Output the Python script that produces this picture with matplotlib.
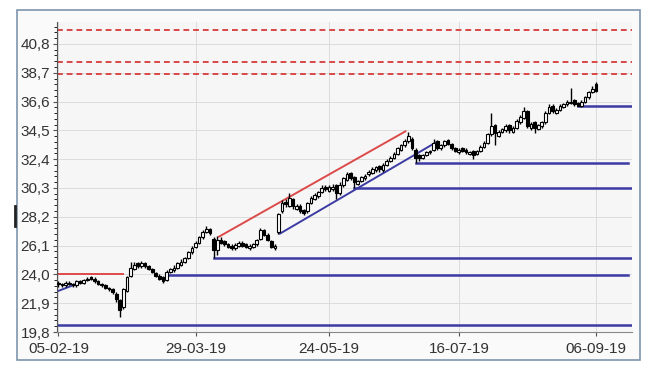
import matplotlib
matplotlib.use('Agg')
import matplotlib.pyplot as plt
from matplotlib.ticker import FixedLocator, AutoMinorLocator, FuncFormatter
from matplotlib.patches import Rectangle
import numpy as np

plt.rcParams.update({
    'font.family': 'Liberation Sans',
    'font.size': 11,
})

# daily OHLC (trading-day index 0..149)
opens = [23.4, 23.3, 23.2, 23.4, 23.3, 23.2, 23.5, 23.4, 23.6, 23.8,
         23.7, 23.5, 23.3, 23.2, 23.0, 22.9, 22.6, 22.1, 21.6, 22.8,
         23.9, 24.4, 24.8, 24.6, 24.8, 24.6, 24.4, 24.1, 23.9, 23.8,
         23.6, 24.2, 24.3, 24.5, 24.7, 24.9, 25.2, 25.6, 26.0, 26.3,
         26.7, 27.1, 27.3, 26.6, 25.8, 26.5, 26.4, 26.2, 26.1, 25.9,
         26.1, 26.3, 26.2, 25.9, 26.0, 26.2, 26.6, 27.2, 26.9, 26.4,
         25.9, 27.1, 28.6, 29.3, 29.0, 29.5, 28.8, 29.0, 28.7, 28.6,
         29.2, 29.5, 29.7, 30.0, 30.4, 30.1, 30.2, 30.5, 29.9, 30.5,
         30.9, 31.4, 31.1, 30.6, 30.8, 31.0, 31.3, 31.4, 31.6, 31.9,
         31.6, 32.0, 32.3, 32.5, 32.8, 33.1, 33.4, 33.7, 33.9, 33.1,
         32.7, 32.5, 32.7, 32.9, 33.1, 33.7, 33.2, 33.4, 33.8, 33.5,
         33.2, 32.9, 33.2, 33.1, 32.8, 33.0, 32.8, 33.0, 33.3, 33.6,
         34.2, 34.9, 34.1, 34.4, 34.5, 34.9, 34.4, 34.7, 35.1, 35.4,
         35.9, 34.7, 35.1, 34.6, 34.8, 35.1, 35.8, 36.3, 35.8, 36.0,
         36.2, 36.4, 36.5, 36.7, 36.5, 36.3, 36.6, 36.9, 37.3, 37.9]
highs = [23.5, 23.4, 23.5, 23.5, 23.4, 23.6, 23.6, 23.7, 23.8, 23.9,
         23.8, 23.6, 23.4, 23.3, 23.1, 23.0, 22.7, 22.2, 23.0, 23.9,
         24.9, 24.9, 24.9, 25.0, 24.9, 24.7, 24.5, 24.2, 24.0, 23.9,
         24.3, 24.5, 24.7, 24.9, 25.1, 25.3, 25.7, 26.1, 26.4, 26.8,
         27.2, 27.5, 27.4, 26.7, 26.8, 26.7, 26.5, 26.3, 26.2, 26.3,
         26.4, 26.4, 26.3, 26.2, 26.3, 26.6, 27.4, 27.3, 27.0, 26.5,
         26.2, 28.5, 29.4, 29.5, 29.9, 29.6, 29.1, 29.1, 28.8, 29.3,
         29.7, 29.9, 30.1, 30.5, 30.5, 30.5, 30.6, 30.6, 30.7, 31.1,
         31.5, 31.5, 31.2, 30.9, 31.2, 31.3, 31.6, 31.8, 31.9, 32.0,
         32.1, 32.4, 32.6, 32.9, 33.3, 33.5, 33.9, 34.4, 34.0, 33.2,
         32.8, 32.8, 33.0, 33.1, 33.9, 33.8, 33.5, 33.8, 33.9, 33.6,
         33.3, 33.2, 33.3, 33.2, 33.0, 33.1, 33.1, 33.4, 33.7, 34.3,
         35.8, 35.0, 34.5, 34.7, 35.0, 35.0, 34.8, 35.3, 35.6, 36.2,
         36.0, 35.1, 35.2, 35.0, 35.2, 35.9, 36.4, 36.4, 36.1, 36.4,
         36.5, 36.7, 37.6, 36.8, 36.6, 36.7, 37.0, 37.4, 37.7, 38.0]
lows = [23.1, 23.1, 23.1, 23.2, 23.1, 23.1, 23.3, 23.3, 23.5, 23.6,
        23.4, 23.2, 23.1, 22.9, 22.8, 22.6, 22.0, 20.9, 21.5, 22.7,
        23.8, 24.3, 24.5, 24.5, 24.5, 24.3, 24.1, 23.8, 23.6, 23.4,
        23.5, 24.1, 24.2, 24.4, 24.6, 24.8, 25.1, 25.5, 25.9, 26.2,
        26.6, 27.0, 26.9, 25.2, 25.4, 26.2, 26.1, 25.9, 25.8, 25.8,
        26.0, 26.0, 25.9, 25.8, 25.9, 26.1, 26.5, 26.8, 26.4, 25.9,
        25.8, 26.95, 28.5, 28.9, 28.9, 28.8, 28.7, 28.5, 28.3, 28.5,
        29.1, 29.4, 29.6, 29.9, 30.1, 30.0, 30.1, 29.5, 29.8, 30.4,
        30.8, 30.9, 30.3, 30.5, 30.7, 30.9, 31.2, 31.3, 31.5, 31.5,
        31.5, 31.9, 32.2, 32.4, 32.7, 33.0, 33.3, 33.6, 33.1, 32.1,
        32.3, 32.4, 32.6, 32.8, 33.0, 33.1, 33.1, 33.3, 33.4, 33.1,
        32.9, 32.8, 32.9, 32.8, 32.7, 32.4, 32.7, 32.9, 33.2, 33.5,
        34.1, 33.4, 34.0, 34.3, 34.4, 34.3, 34.3, 34.6, 35.0, 35.3,
        34.7, 34.5, 34.3, 34.5, 34.7, 35.0, 35.7, 35.8, 35.7, 35.9,
        36.1, 36.3, 36.4, 36.3, 36.25, 36.2, 36.5, 36.8, 37.2, 37.3]
closes = [23.3, 23.2, 23.4, 23.3, 23.2, 23.5, 23.4, 23.6, 23.7, 23.7,
          23.5, 23.3, 23.2, 23.0, 22.9, 22.7, 22.2, 21.4, 22.9, 23.8,
          24.5, 24.7, 24.6, 24.85, 24.6, 24.4, 24.2, 23.9, 23.7, 23.5,
          24.2, 24.4, 24.5, 24.8, 24.9, 25.2, 25.6, 25.95, 26.3, 26.7,
          27.1, 27.3, 27.0, 25.8, 26.5, 26.3, 26.2, 26.0, 25.95, 26.15,
          26.3, 26.1, 26.0, 26.1, 26.2, 26.5, 27.2, 26.9, 26.5, 26.0,
          26.1, 28.4, 29.2, 29.1, 29.6, 28.95, 28.95, 28.6, 28.5, 29.2,
          29.6, 29.8, 30.0, 30.3, 30.2, 30.4, 30.4, 29.9, 30.55, 31.0,
          31.3, 31.0, 30.7, 30.8, 31.1, 31.2, 31.5, 31.65, 31.8, 31.65,
          32.0, 32.3, 32.5, 32.75, 33.2, 33.4, 33.7, 34.1, 33.2, 32.5,
          32.5, 32.7, 32.9, 33.0, 33.6, 33.2, 33.4, 33.7, 33.5, 33.2,
          33.0, 33.05, 33.0, 32.9, 32.9, 32.7, 33.0, 33.3, 33.6, 34.2,
          34.8, 34.3, 34.35, 34.6, 34.8, 34.5, 34.7, 35.15, 35.5, 35.9,
          34.8, 35.0, 34.7, 34.9, 35.1, 35.8, 36.2, 35.9, 36.0, 36.25,
          36.4, 36.55, 36.6, 36.4, 36.3, 36.6, 36.9, 37.3, 37.5, 37.4]

date_ticks = [0, 38, 75, 111, 149]
date_labels = ['05-02-19', '29-03-19', '24-05-19', '16-07-19', '06-09-19']

# resistance (red dashed), support levels (blue): level, start, end
resistance = [41.85, 39.5, 38.6]
supports = [(20.3, 0, 159), (23.95, 30, 158), (25.2, 43, 159),
            (30.3, 82, 159), (32.1, 99, 158), (36.3, 144, 159)]
red_segments = [((0, 24.0), (18, 24.0)), ((44.5, 26.75), (96.2, 34.43))]
blue_segments = [((0, 22.8), (5, 23.3)), ((61.4, 26.97), (104.5, 33.6))]

fig = plt.figure(figsize=(6.6, 3.79), dpi=100)
fig.patches.append(Rectangle((17/660, 1-360/379), 623/660, 350/379, transform=fig.transFigure,
                             facecolor='#fafafa', edgecolor='#7f95ab', linewidth=1.2, zorder=-5))
fig.add_artist(plt.Line2D([15/660, 15/660], [1-226/379, 1-206/379], color='#222222', lw=2))
ax = fig.add_axes([57/660, 1-332/379, 575/660, 310/379])
ax.set_facecolor('#f6f6f6')

x = np.arange(len(closes))
o = np.array(opens); c = np.array(closes)
up = c >= o
ax.vlines(x, lows, highs, color='black', lw=1.0, zorder=3)
body_h = np.maximum(np.abs(c - o), 0.08)
ax.bar(x, body_h, width=0.75, bottom=np.minimum(o, c),
       color=np.where(up, 'white', 'black'), edgecolor='black', linewidth=0.8, zorder=4)

for lvl in resistance:
    ax.axhline(lvl, color='#d94848', lw=1.4, ls=(0, (3, 2)), zorder=2)
for lvl, x0, x1 in supports:
    ax.plot([x0, x1], [lvl, lvl], color='#3b3ba3', lw=1.8, zorder=2)
for (x0, y0), (x1, y1) in red_segments:
    ax.plot([x0, x1], [y0, y1], color='#dd4a4a', lw=1.4, zorder=2)
for (x0, y0), (x1, y1) in blue_segments:
    ax.plot([x0, x1], [y0, y1], color='#3b3ba3', lw=1.4, zorder=2)

ax.set_xlim(-0.4, 159)
ax.set_ylim(19.8, 42.4)
yt = [19.8, 21.9, 24.0, 26.1, 28.2, 30.3, 32.4, 34.5, 36.6, 38.7, 40.8]
ax.yaxis.set_major_locator(FixedLocator(yt))
ax.yaxis.set_major_formatter(FuncFormatter(lambda v, p: f'{v:.1f}'.replace('.', ',')))
ax.yaxis.set_minor_locator(AutoMinorLocator(5))
ax.set_xticks(date_ticks)
ax.set_xticklabels(date_labels)
ax.grid(True, color='#dcdcdc', lw=0.7, zorder=0)
ax.set_axisbelow(True)
for s in ['top', 'right']:
    ax.spines[s].set_visible(False)
ax.spines['left'].set_color('#555555')
ax.spines['bottom'].set_color('#888888')
ax.tick_params(axis='both', length=3, color='#555555', labelcolor='#333333', pad=2)
ax.tick_params(axis='y', which='minor', length=2)
ax.tick_params(axis='x', pad=4)

plt.savefig('out.png', dpi=100)
plt.close()
